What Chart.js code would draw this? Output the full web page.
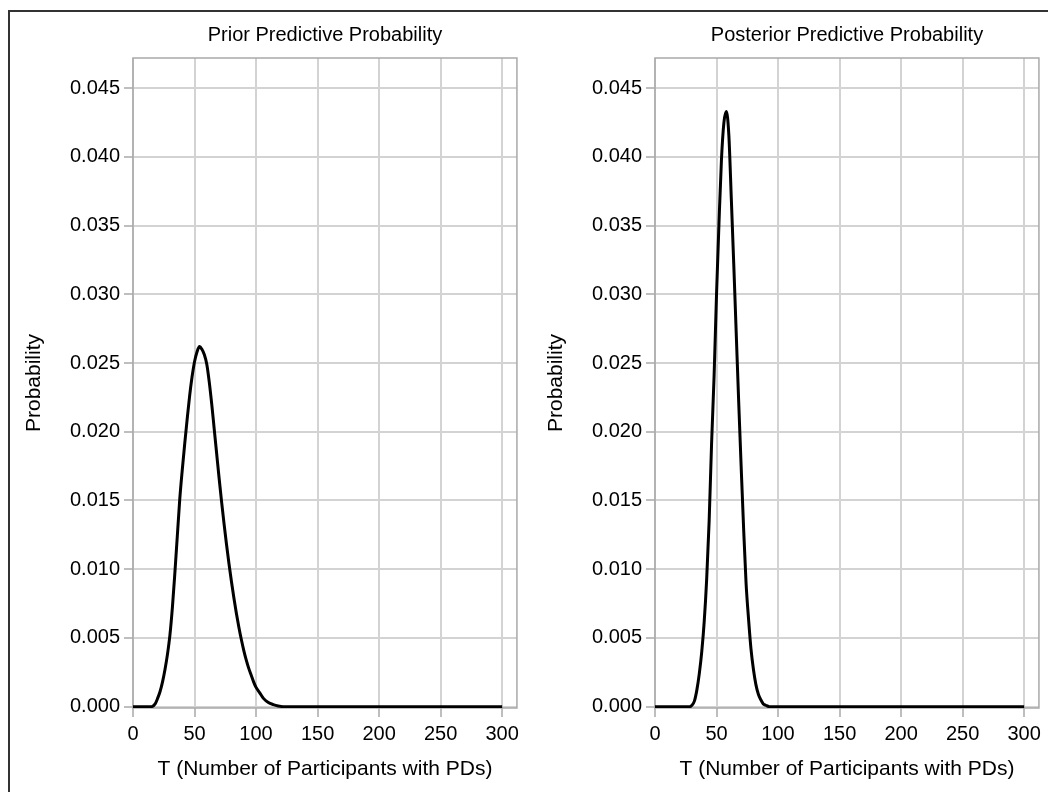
<!DOCTYPE html>
<html>
<head>
<meta charset="utf-8">
<script src="https://cdn.jsdelivr.net/npm/chart.js@4/dist/chart.umd.min.js"></script>
<style>
  body { margin: 0; background: #fff; width: 1048px; height: 792px; overflow: hidden; position: relative; }
  #frame { position: absolute; left: 8px; top: 10px; width: 1060px; height: 800px; border: 2px solid #333; box-sizing: border-box; }
  canvas { position: absolute; top: 0; }
</style>
</head>
<body>
<div id="frame"></div>
<canvas id="prior" width="524" height="792" style="left:0px"></canvas>
<canvas id="posterior" width="524" height="792" style="left:522px"></canvas>
<script>
// values
var priorT = [0, 10, 15, 18, 20, 22, 24, 26, 28, 30, 32, 34, 36, 38, 40, 42, 44, 46, 48, 50, 52, 54, 56, 58, 60, 62, 64, 66, 68, 70, 72, 74, 76, 78, 80, 82, 84, 86, 88, 90, 92, 94, 96, 98, 100, 103, 106, 110, 114, 118, 122, 200, 300];
var priorP = [0, 0, 0, 0.0002, 0.0006, 0.0011, 0.0018, 0.0027, 0.0038, 0.0052, 0.0072, 0.0097, 0.0124, 0.0151, 0.0172, 0.0191, 0.0209, 0.0226, 0.0240, 0.0251, 0.0258, 0.0262, 0.0260, 0.0256, 0.0249, 0.0236, 0.0220, 0.0202, 0.0184, 0.0166, 0.0149, 0.0133, 0.0118, 0.0104, 0.0091, 0.0079, 0.0068, 0.0058, 0.0049, 0.0041, 0.0034, 0.0028, 0.0023, 0.0018, 0.0014, 0.0010, 0.0006, 0.0003, 0.00015, 0.00005, 0, 0, 0];

var postT = [0, 20, 28, 30, 32, 34, 36, 38, 40, 42, 44, 46, 48, 50, 52, 54, 56, 58, 60, 62, 64, 66, 68, 70, 72, 74, 76, 78, 80, 82, 84, 86, 88, 90, 93, 150, 300];
var postP = [0, 0, 0, 0.0001, 0.0004, 0.0012, 0.0024, 0.0040, 0.0062, 0.0093, 0.0135, 0.0192, 0.0240, 0.0300, 0.0352, 0.0398, 0.0425, 0.0433, 0.0416, 0.0370, 0.0322, 0.0272, 0.0222, 0.0175, 0.0130, 0.0090, 0.0064, 0.0042, 0.0027, 0.0016, 0.0009, 0.0005, 0.0002, 0.0001, 0, 0, 0];

var xTicks = [0, 50, 100, 150, 200, 250, 300];
var yTicks = [0, 0.005, 0.01, 0.015, 0.02, 0.025, 0.03, 0.035, 0.04, 0.045];

var FONT = "'Liberation Sans', Arial, sans-serif";

function toPoints(xs, ys) {
  var pts = [];
  for (var i = 0; i < xs.length; i++) pts.push({x: xs[i], y: ys[i]});
  return pts;
}

// panel title centred on the plot area, plus the box round the plot
var panelDeco = {
  id: 'panelDeco',
  beforeDatasetsDraw: function(chart) {
    var a = chart.chartArea, ctx = chart.ctx;
    ctx.save();
    ctx.strokeStyle = '#a9a9a9';
    ctx.lineWidth = 1.5;
    ctx.strokeRect(a.left, a.top, a.right - a.left, a.bottom - a.top);
    ctx.restore();
  },
  afterDraw: function(chart, args, opts) {
    var a = chart.chartArea, ctx = chart.ctx;
    ctx.save();
    ctx.fillStyle = '#000';
    ctx.font = '20px ' + FONT;
    ctx.textAlign = 'center';
    ctx.textBaseline = 'middle';
    ctx.fillText(opts.text, (a.left + a.right) / 2, 35);
    ctx.restore();
  }
};

function makePanel(id, title, xs, ys) {
  var ctx = document.getElementById(id).getContext('2d');
  return new Chart(ctx, {
    type: 'line',
    data: {
      datasets: [{
        data: toPoints(xs, ys),
        borderColor: '#000',
        borderWidth: 3,
        pointRadius: 0,
        fill: false,
        cubicInterpolationMode: 'monotone'
      }]
    },
    options: {
      responsive: false,
      animation: false,
      devicePixelRatio: 1,
      layout: { padding: { top: 58, right: 4, left: 0, bottom: 0 } },
      plugins: {
        legend: { display: false },
        tooltip: { enabled: false },
        panelDeco: { text: title }
      },
      scales: {
        x: {
          type: 'linear',
          min: 0,
          max: 312,
          afterFit: function(s) { s.height = 84; },
          afterBuildTicks: function(s) { s.ticks = xTicks.map(function(v) { return {value: v}; }); },
          ticks: { stepSize: 50, includeBounds: false, color: '#000', padding: 5, maxRotation: 0, font: { family: FONT, size: 20 } },
          grid: { color: '#d3d3d3', lineWidth: 2, tickLength: 9, tickColor: '#a9a9a9', tickWidth: 1.5 },
          border: { display: false },
          title: { display: true, text: 'T (Number of Participants with PDs)', color: '#000', padding: { top: 0, bottom: 10 }, font: { family: FONT, size: 21 } }
        },
        y: {
          type: 'linear',
          min: -0.0001,
          max: 0.0472,
          afterFit: function(s) { s.width = 133; },
          afterBuildTicks: function(s) { s.ticks = yTicks.map(function(v) { return {value: v}; }); },
          ticks: {
            includeBounds: false, color: '#000', padding: 4, font: { family: FONT, size: 20 },
            callback: function(v) { return v.toFixed(3); }
          },
          grid: { color: '#d3d3d3', lineWidth: 2, tickLength: 9, tickColor: '#a9a9a9', tickWidth: 1.5 },
          border: { display: false },
          title: { display: true, text: 'Probability', color: '#000', padding: { top: 22, bottom: 0 }, font: { family: FONT, size: 21 } }
        }
      }
    },
    plugins: [panelDeco]
  });
}

makePanel('prior', 'Prior Predictive Probability', priorT, priorP);
makePanel('posterior', 'Posterior Predictive Probability', postT, postP);
</script>
</body>
</html>
